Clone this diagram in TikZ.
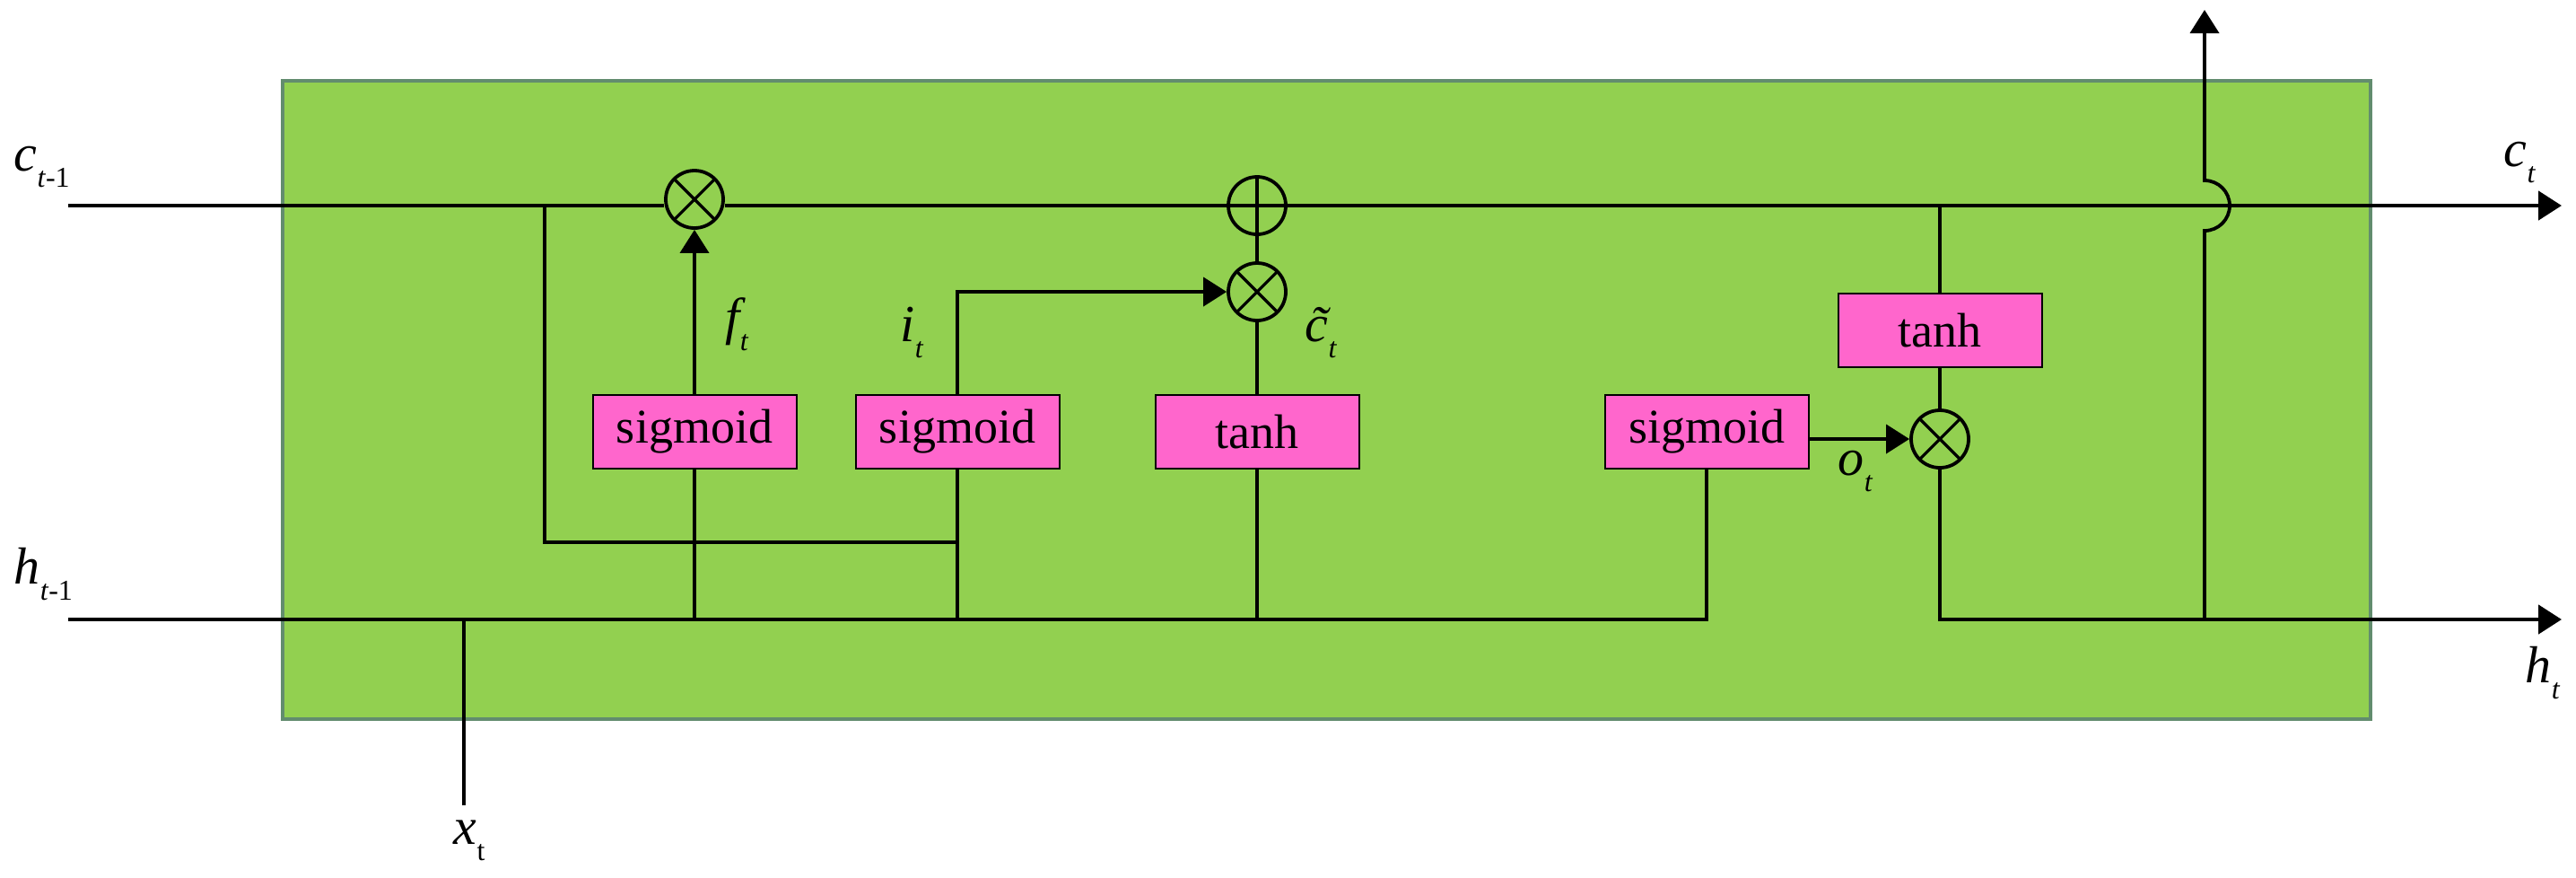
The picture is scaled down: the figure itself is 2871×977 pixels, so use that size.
\documentclass[tikz,border=0pt]{standalone}
\usepackage{fontspec}
\setmainfont{Liberation Serif}
\usetikzlibrary{arrows.meta}
\definecolor{cellgreen}{RGB}{146,208,80}
\definecolor{cellborder}{RGB}{98,140,110}
\definecolor{gatepink}{RGB}{255,102,204}
\newcommand{\lbl}[2]{{\fontsize{14.5}{15}\selectfont\itshape #1}\raisebox{-4.5pt}{\fontsize{8}{9}\selectfont #2}}
\begin{document}
\begin{tikzpicture}[x=0.25pt,y=-0.25pt,
  gate/.style={draw=black, line width=0.5pt, fill=gatepink, minimum width=56.75pt, minimum height=20.5pt, inner sep=0pt, font=\fontsize{13.5}{14}\selectfont},
  opnode/.style={circle, draw=black, line width=0.95pt, minimum size=16pt, inner sep=0pt},
  mult/.style={opnode, path picture={\draw[line width=0.8pt] (path picture bounding box.north west) -- (path picture bounding box.south east) (path picture bounding box.north east) -- (path picture bounding box.south west);}},
  addn/.style={opnode, path picture={\draw[line width=0.8pt] (path picture bounding box.north) -- (path picture bounding box.south) (path picture bounding box.west) -- (path picture bounding box.east);}},
  wire/.style={line width=0.95pt},
  mainwire/.style={line width=1.2pt},
  arr/.style={-{Triangle[length=6.5pt,width=8pt]}},
  lab/.style={inner sep=0pt, anchor=base west}]
\useasboundingbox (0,0) rectangle (2871,977);
% cell background
\path[fill=cellgreen, draw=cellborder, line width=0.8pt] (315,90) rectangle (2642,801);
% gates
\node[gate] (s1) at (774,481) {sigmoid};
\node[gate] (s2) at (1067,481) {sigmoid};
\node[gate] (t1) at (1401,481) {tanh};
\node[gate] (s3) at (1902,481) {sigmoid};
\node[gate] (t2) at (2162,368) {tanh};
% operators
\node[mult] (m1) at (774,222) {};
\node[addn] (a1) at (1401,229) {};
\node[mult] (m2) at (1401,325) {};
\node[mult] (m3) at (2162,489) {};
% coordinates
\coordinate (cin) at (76,229);
\coordinate (cout) at (2855,229);
\coordinate (hin) at (76,690);
\coordinate (hout) at (2855,690);
\coordinate (xin) at (517,897);
\coordinate (jl) at (607,229);
\coordinate (inner) at (607,604);
\coordinate (hb) at (2457,690);
\coordinate (jb) at (2457,257);
\coordinate (top) at (2457,11);
% cell state line
\draw[mainwire] (cin) -- (m1.west |- cin);
\draw[mainwire] (m1.east |- cin) -- (a1.west);
\draw[mainwire,arr] (a1.east) -- (cout);
% hidden input line
\draw[mainwire] (hin) -- (hin -| s3.south) -- (s3.south);
\draw[wire] (xin) -- (xin |- hin);
\draw[wire] (jl) -- (inner) -- (inner -| s2.south);
% gate connections
\draw[wire] (s1.south) -- (s1.south |- hin);
\draw[wire] (s2.south) -- (s2.south |- hin);
\draw[wire] (t1.south) -- (t1.south |- hin);
\draw[wire,arr] (s1.north) -- (m1.south);
\draw[wire,arr] (s2.north) |- (m2.west);
\draw[wire] (t1.north) -- (m2.south);
\draw[wire] (m2.north) -- (a1.south);
\draw[wire] (t2.north |- cin) -- (t2.north);
\draw[wire] (t2.south) -- (m3.north);
\draw[wire,arr] (s3.east |- m3) -- (m3.west);
\draw[mainwire,arr] (m3.south) |- (hout);
\draw[wire,arr] (hb) -- (jb) arc[start angle=-90, end angle=90, radius=7pt] -- (top);
% labels
\node[lab] (lc0) at (15,190) {\lbl{c}{\textit{t}-1}};
\node[lab] (lh0) at (15,650) {\lbl{h}{\textit{t}-1}};
\node[lab] (lc1) at (2790,185) {\lbl{c}{\textit{t}}};
\node[lab] (lh1) at (2814,760) {\lbl{h}{\textit{t}}};
\node[lab] (lx) at (505,940) {\lbl{x}{t}};
\node[lab] (lf) at (808,372) {\lbl{f}{\textit{t}}};
\node[lab] (li) at (1003,380) {\lbl{i}{\textit{t}}};
\node[lab] (lct) at (1454,380) {\lbl{\~{c}}{\textit{t}}};
\node[lab] (lo) at (2048,529) {\lbl{o}{\textit{t}}};
\end{tikzpicture}
\end{document}
